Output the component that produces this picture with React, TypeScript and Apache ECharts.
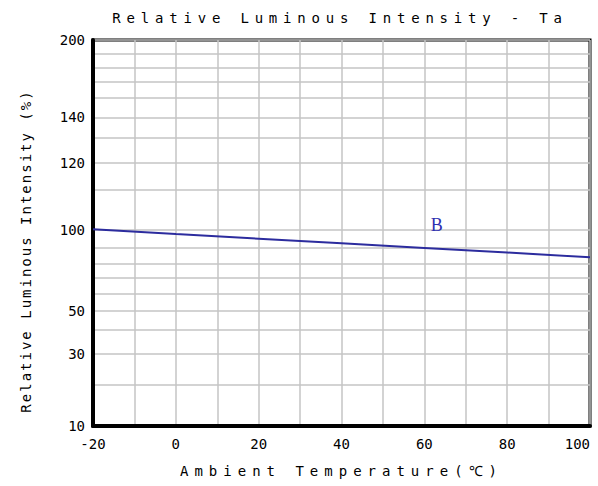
import React, { useEffect, useRef } from 'react';
import * as echarts from 'echarts';

// ---- data ----
const temperatures = [-20, 0, 20, 40, 60, 80, 100];
const intensityB = [100.2, 97.7, 95.1, 92.5, 89.8, 86.9, 83.8];
const seriesName = 'B';
const xTickLabels = [-20, 0, 20, 40, 60, 80, 100];
const yTickLabels = [10, 30, 50, 100, 120, 140, 200];
// The chart's vertical scale is non-linear: each grid value and its height on the axis
const yGridValues = [10, 20, 30, 40, 50, 60, 70, 80, 90, 100, 110, 120, 130, 140, 150, 160, 170, 180, 200];
const yGridRows = [0, 41.7, 72, 96, 115, 132.7, 148.7, 162.7, 178.3, 196, 236, 263.3, 288.3, 308.7, 328.3, 344.3, 358.3, 372.7, 386];
const labelAnchorB = [63, 101.3];

const TITLE = 'Relative Luminous Intensity - Ta';
const X_NAME = 'Ambient Temperature(℃)';
const Y_NAME = 'Relative Luminous Intensity (%)';

function toRow(v: number): number {
  const n = yGridValues.length;
  for (let i = 0; i < n - 1; i++) {
    const a = yGridValues[i];
    const b = yGridValues[i + 1];
    if (v <= b || i === n - 2) {
      return yGridRows[i] + ((v - a) / (b - a)) * (yGridRows[i + 1] - yGridRows[i]);
    }
  }
  return 0;
}

function rowToLabel(r: number): string {
  for (let i = 0; i < yGridRows.length; i++) {
    if (Math.abs(yGridRows[i] - r) < 0.01) return String(yGridValues[i]);
  }
  return '';
}

const MONO = '"DejaVu Sans Mono", "Liberation Mono", monospace';

export default function App() {
  const ref = useRef<HTMLDivElement>(null);
  useEffect(() => {
    document.body.style.margin = '0';
    const el = ref.current!;
    const chart = echarts.init(el, undefined, { renderer: 'svg' });
    const option: any = {
      animation: false,
      backgroundColor: '#ffffff',
      grid: {
        left: 93,
        right: 8,
        top: 40,
        bottom: 60,
        show: true,
        borderColor: '#000',
        borderWidth: 3,
      },
      graphic: [
        {
          type: 'text',
          x: 340,
          y: 18,
          style: {
            text: TITLE,
            align: 'center',
            verticalAlign: 'middle',
            font: '14px ' + MONO,
            fill: '#000',
          },
        },
      ],
      xAxis: {
        type: 'value',
        min: -20,
        max: 100,
        interval: 10,
        name: X_NAME,
        nameLocation: 'middle',
        nameGap: 38,
        nameTextStyle: { fontFamily: MONO, fontSize: 14, color: '#000' },
        axisLine: { show: true, onZero: false, lineStyle: { color: '#000', width: 4 } },
        axisTick: { show: false },
        axisLabel: {
          customValues: xTickLabels,
          fontFamily: MONO,
          fontSize: 14,
          color: '#000',
          margin: 11,
          alignMaxLabel: 'right',
        },
        splitLine: { show: true, lineStyle: { color: '#c4c4c4', width: 1.5 } },
      },
      yAxis: {
        type: 'value',
        min: 0,
        max: 386,
        name: Y_NAME,
        nameLocation: 'middle',
        nameGap: 60,
        nameTextStyle: { fontFamily: MONO, fontSize: 14, color: '#000', padding: [0, 36, 0, 0] },
        axisLine: { show: true, onZero: false, lineStyle: { color: '#000', width: 4 } },
        axisTick: { show: false, customValues: yGridRows },
        axisLabel: {
          customValues: yTickLabels.map(toRow),
          formatter: (v: number) => rowToLabel(v),
          fontFamily: MONO,
          fontSize: 14,
          color: '#000',
          margin: 8,
        },
        splitLine: { show: true, lineStyle: { color: '#c4c4c4', width: 1.5 } },
      },
      series: [
        {
          name: seriesName,
          type: 'line',
          data: temperatures.map((t, i) => [t, toRow(intensityB[i])]),
          showSymbol: false,
          symbol: 'none',
          lineStyle: { color: '#2c2c9e', width: 2 },
          z: 5,
          markPoint: {
            symbol: 'circle',
            symbolSize: 0,
            label: {
              show: true,
              position: 'inside',
              formatter: seriesName,
              fontFamily: '"Liberation Serif", "DejaVu Serif", serif',
              fontSize: 18,
              color: '#2f2fb0',
            },
            data: [{ coord: [labelAnchorB[0], toRow(labelAnchorB[1])] }],
          },
        },
      ],
    };
    const spacing: Record<string, string> = {
      [TITLE]: '5.8',
      [X_NAME]: '6',
      [Y_NAME]: '2',
    };
    const applySpacing = () => {
      el.querySelectorAll('text').forEach((t) => {
        const s = t.textContent || '';
        if (spacing[s]) t.setAttribute('letter-spacing', spacing[s]);
      });
    };
    chart.on('finished', applySpacing);
    chart.setOption(option);
    applySpacing();
    const timer = setTimeout(applySpacing, 50);
    return () => {
      clearTimeout(timer);
      chart.dispose();
    };
  }, []);
  return <div ref={ref} style={{ width: 598, height: 486 }} />;
}
